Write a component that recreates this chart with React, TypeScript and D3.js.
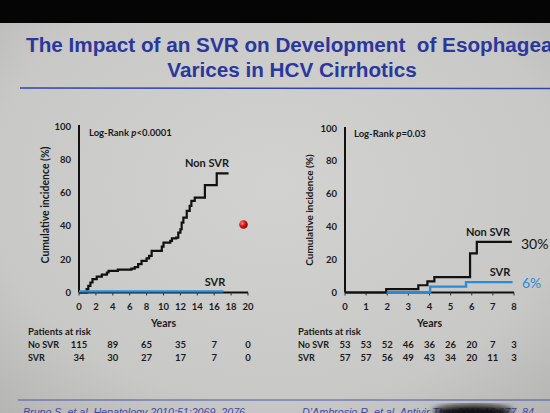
import React from "react";
import * as d3 from "d3";

// ---- Data ----
const leftXTicks = [0, 2, 4, 6, 8, 10, 12, 14, 16, 18, 20];
const rightXTicks = [0, 1, 2, 3, 4, 5, 6, 7, 8];
const yTicks = [0, 20, 40, 60, 80, 100];

const leftNonSvrTime = [0, 0.9, 1.1, 1.35, 1.6, 2.1, 2.7, 3.3, 3.5, 4.6, 6.2, 6.6, 7.0, 7.4, 8.0, 8.3, 8.6, 9.8, 10.0, 10.8, 11.0, 11.5, 11.75, 12.0, 12.15, 12.35, 12.75, 13.1, 13.3, 13.7, 14.9, 16.3, 17.7];
const leftNonSvrInc = [0, 2, 4, 6, 8, 9.5, 10.7, 12, 13, 13.7, 14.3, 15.3, 17, 19, 20.5, 22, 25, 27.5, 30, 31, 32.5, 33, 36, 38, 42, 45, 49, 52, 55, 57, 64.5, 71.5, 71.5];
const leftSvrTime = [0, 17.1];
const leftSvrInc = [0.7, 0.7];

const rightNonSvrTime = [0, 1.95, 3.47, 3.9, 4.23, 5.92, 6.24, 7.9];
const rightNonSvrInc = [0, 2, 4.4, 6.8, 9.4, 23.8, 30.8, 30.8];
const rightSvrTime = [1.97, 4.03, 5.73, 7.93];
const rightSvrInc = [0, 3.6, 6.3, 6.3];

const leftRiskYears = [0, 4, 8, 12, 16, 20];
const leftRiskNoSvr = [115, 89, 65, 35, 7, 0];
const leftRiskSvr = [34, 30, 27, 17, 7, 0];
const rightRiskYears = [0, 1, 2, 3, 4, 5, 6, 7, 8];
const rightRiskNoSvr = [53, 53, 52, 46, 36, 26, 20, 7, 3];
const rightRiskSvr = [57, 57, 56, 49, 43, 34, 20, 11, 3];

const W = 550;
const H = 413;
const BLUE_TITLE = "#2a379c";
const CURVE_BLUE = "#2b8bd6";
const CF = "Lato, 'Open Sans', sans-serif";

function stepPath(xs: number[], ys: number[], x: d3.ScaleLinear<number, number>, y: d3.ScaleLinear<number, number>) {
  const pts: [number, number][] = xs.map((t, i) => [t, ys[i]]);
  return d3.line<[number, number]>().x(d => x(d[0])).y(d => y(d[1])).curve(d3.curveStepAfter)(pts) || "";
}

function Panel(props: {
  x0: number; x1: number; yTop: number; yBot: number; xMax: number; xTicks: number[];
  yLabelRight: number; yTitleX: number; yTitleY: number; yTitleSize: number;
  nonT: number[]; nonI: number[]; svrT: number[]; svrI: number[];
  logRank: string; logRankX: number; logRankY: number;
  riskYears: number[]; riskNo: number[]; riskSvr: number[]; riskLabelX: number;
}) {
  const x = d3.scaleLinear().domain([0, props.xMax]).range([props.x0, props.x1]);
  const y = d3.scaleLinear().domain([0, 100]).range([props.yBot, props.yTop]);
  const midX = (props.x0 + props.x1) / 2;
  return (
    <g fontFamily={CF} fontWeight={700} fill="#1a1a1a">
      {/* axes */}
      <line x1={props.x0} x2={props.x0} y1={y(100) - 1} y2={y(0)} stroke="#111" strokeWidth={2} />
      <line x1={props.x0} x2={props.x1} y1={y(0)} y2={y(0)} stroke="#111" strokeWidth={2} />
      {props.xTicks.map(t => (
        <line key={"xt" + t} x1={x(t)} x2={x(t)} y1={y(0)} y2={y(0) + 3} stroke="#333" strokeWidth={1} />
      ))}
      {yTicks.map(t => (
        <text key={"yl" + t} x={props.yLabelRight} y={y(t) + 3.5} textAnchor="end" fontSize={9.5}>{t}</text>
      ))}
      {props.xTicks.map(t => (
        <text key={"xl" + t} x={x(t)} y={310} textAnchor="middle" fontSize={9.5}>{t}</text>
      ))}
      <text x={midX} y={326.5} textAnchor="middle" fontSize={10.5}>Years</text>
      <text transform={`translate(${props.yTitleX},${props.yTitleY}) rotate(-90)`} textAnchor="middle" fontSize={props.yTitleSize}>Cumulative incidence (%)</text>
      <text x={props.logRankX} y={props.logRankY} fontSize={9.5}>
        Log-Rank <tspan fontStyle="italic">p</tspan>{props.logRank}
      </text>
      {/* curves */}
      <path d={stepPath(props.nonT, props.nonI, x, y)} fill="none" stroke="#111" strokeWidth={2.2} />
      <path d={stepPath(props.svrT, props.svrI, x, y)} fill="none" stroke={CURVE_BLUE} strokeWidth={2.4} />
      {/* patients at risk */}
      <text x={props.riskLabelX} y={335} fontSize={9.5}>Patients at risk</text>
      <text x={props.riskLabelX} y={347.5} fontSize={9}>No SVR</text>
      <text x={props.riskLabelX} y={361} fontSize={9}>SVR</text>
      {props.riskYears.map((t, i) => (
        <text key={"rn" + t} x={x(t)} y={347.5} textAnchor="middle" fontSize={9.5}>{props.riskNo[i]}</text>
      ))}
      {props.riskYears.map((t, i) => (
        <text key={"rs" + t} x={x(t)} y={361} textAnchor="middle" fontSize={9.5}>{props.riskSvr[i]}</text>
      ))}
    </g>
  );
}

export default function App() {
  return (
    <svg width={W} height={H} style={{ position: "absolute", left: 0, top: 0 }} xmlns="http://www.w3.org/2000/svg">
      <defs>
        <radialGradient id="bg" cx="50%" cy="45%" r="75%">
          <stop offset="0%" stopColor="#d2d2d0" />
          <stop offset="70%" stopColor="#c8c8c6" />
          <stop offset="100%" stopColor="#b4b4b2" />
        </radialGradient>
        <radialGradient id="ball" cx="35%" cy="35%" r="65%">
          <stop offset="0%" stopColor="#ff8a8a" />
          <stop offset="50%" stopColor="#e01818" />
          <stop offset="100%" stopColor="#8a0a0a" />
        </radialGradient>
        <filter id="blur3"><feGaussianBlur stdDeviation="3" /></filter>
      </defs>
      <rect x={0} y={0} width={W} height={H} fill="url(#bg)" />
      <rect x={0} y={0} width={W} height={23} fill="#050505" />

      {/* Title */}
      <g fontFamily="'Liberation Sans', Arial, sans-serif" fontWeight={700} fill={BLUE_TITLE} fontSize={20.7}>
        <text x={26} y={52} style={{ whiteSpace: "pre" }}>The Impact of an SVR on Development  of Esophageal</text>
        <text x={292} y={77} textAnchor="middle">Varices in HCV Cirrhotics</text>
      </g>
      <line x1={20} x2={W} y1={88} y2={88.5} stroke="#3443a8" strokeWidth={1.5} />

      <Panel x0={79} x1={248} yTop={126} yBot={292.5} xMax={20} xTicks={leftXTicks}
        yLabelRight={71} yTitleX={49} yTitleY={205} yTitleSize={10.5}
        nonT={leftNonSvrTime} nonI={leftNonSvrInc} svrT={leftSvrTime} svrI={leftSvrInc}
        logRank="<0.0001" logRankX={89} logRankY={136}
        riskYears={leftRiskYears} riskNo={leftRiskNoSvr} riskSvr={leftRiskSvr} riskLabelX={28} />

      <Panel x0={345} x1={514} yTop={128} yBot={292.5} xMax={8} xTicks={rightXTicks}
        yLabelRight={337} yTitleX={313} yTitleY={210} yTitleSize={10}
        nonT={rightNonSvrTime} nonI={rightNonSvrInc} svrT={rightSvrTime} svrI={rightSvrInc}
        logRank="=0.03" logRankX={354} logRankY={137}
        riskYears={rightRiskYears} riskNo={rightRiskNoSvr} riskSvr={rightRiskSvr} riskLabelX={298} />

      {/* curve labels */}
      <g fontFamily={CF} fontWeight={700} fill="#1a1a1a" fontSize={11}>
        <text x={207} y={167} textAnchor="middle">Non SVR</text>
        <text x={215} y={285.5} textAnchor="middle">SVR</text>
        <text x={488} y={235.5} textAnchor="middle">Non SVR</text>
        <text x={500} y={275.5} textAnchor="middle">SVR</text>
      </g>
      <text x={521} y={249} fontFamily={CF} fontSize={14} fill="#111">30%</text>
      <text x={522} y={287.5} fontFamily={CF} fontSize={14} fill={CURVE_BLUE}>6%</text>

      {/* red pointer dot */}
      <circle cx={243.5} cy={224.5} r={4.3} fill="url(#ball)" />

      {/* footer */}
      <line x1={18} x2={W} y1={400} y2={400} stroke="#4a55b0" strokeWidth={1} />
      <g fontFamily="'Liberation Sans', Arial, sans-serif" fontStyle="italic" fill="#3b48a8" fontSize={11.5}>
        <text x={23} y={416} textLength={222} lengthAdjust="spacingAndGlyphs">Bruno S, et al. Hepatology 2010;51:2069–2076</text>
        <text x={302} y={416} textLength={232} lengthAdjust="spacingAndGlyphs">D’Ambrosio R, et al. Antivir Ther 2011;16:677–84</text>
      </g>
      <ellipse cx={473} cy={412} rx={40} ry={7} fill="#111" filter="url(#blur3)" />
    </svg>
  );
}
